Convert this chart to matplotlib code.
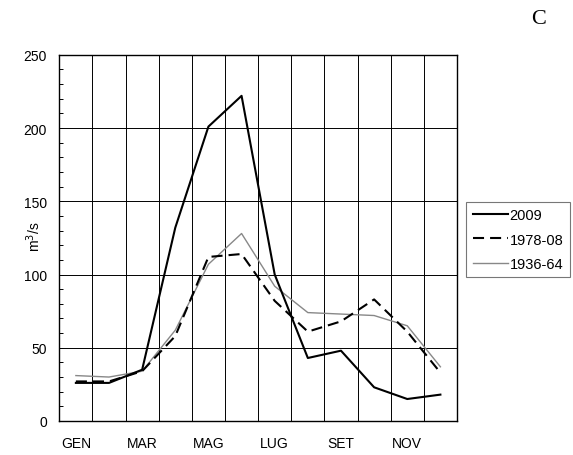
import numpy as np
import matplotlib
matplotlib.use('Agg')
import matplotlib.pyplot as plt

plt.rcParams["font.family"] = ["Liberation Sans", "DejaVu Sans"]

months = ['GEN', 'FEB', 'MAR', 'APR', 'MAG', 'GIU', 'LUG', 'AGO', 'SET', 'OTT', 'NOV', 'DIC']
q_2009 = [26, 26, 35, 132, 201, 222, 100, 43, 48, 23, 15, 18]
q_1978_08 = [27, 27, 34, 58, 112, 114, 82, 61, 68, 83, 61, 33]
q_1936_64 = [31, 30, 34, 62, 107, 128, 92, 74, 73, 72, 65, 37]

fig = plt.figure(figsize=(5.73, 4.56), dpi=100)
ax = fig.add_axes([0.1035, 0.0746, 0.694, 0.803])

x = np.arange(len(months))
ax.plot(x, q_2009, color='black', lw=1.5, label='2009', zorder=5)
ax.plot(x, q_1978_08, color='black', lw=1.5, dashes=(5.3, 2.9), label='1978-08', zorder=4)
ax.plot(x, q_1936_64, color='#888888', lw=1.0, label='1936-64', zorder=3)

ax.set_xlim(-0.5, 11.5)
ax.set_ylim(0, 250)

# x: labels every other month, grid at month boundaries
ax.set_xticks(x[::2])
ax.set_xticklabels(months[::2])
ax.set_xticks(np.arange(0.5, 11.5, 1), minor=True)
ax.tick_params(axis='x', which='both', length=0, pad=11, labelsize=10)
ax.grid(axis='x', which='minor', color='black', lw=0.7)

ax.set_yticks(np.arange(0, 251, 50))
ax.set_yticks(np.arange(0, 251, 10), minor=True)
ax.tick_params(axis='y', which='both', direction='in', length=3, width=0.7, pad=9, labelsize=10)
ax.grid(axis='y', which='major', color='black', lw=0.7)

for s in ax.spines.values():
    s.set_linewidth(1.0)
    s.set_color('black')

fig.text(0.058, 0.48, 'm$^3$/s', rotation=90, ha='center', va='center', fontsize=10)
fig.text(0.9407, 0.958, 'C', ha='center', va='center', fontsize=16, family='Liberation Serif')

leg = ax.legend(loc='upper left', bbox_to_anchor=(1.0226, 0.5987), fontsize=10.5,
                frameon=True, fancybox=False, borderaxespad=0, handlelength=2.4,
                handletextpad=0.15, labelspacing=0.7, borderpad=0.45)
leg.get_frame().set_edgecolor('#555555')
leg.get_frame().set_linewidth(0.8)

fig.savefig('out.png', dpi=100)
